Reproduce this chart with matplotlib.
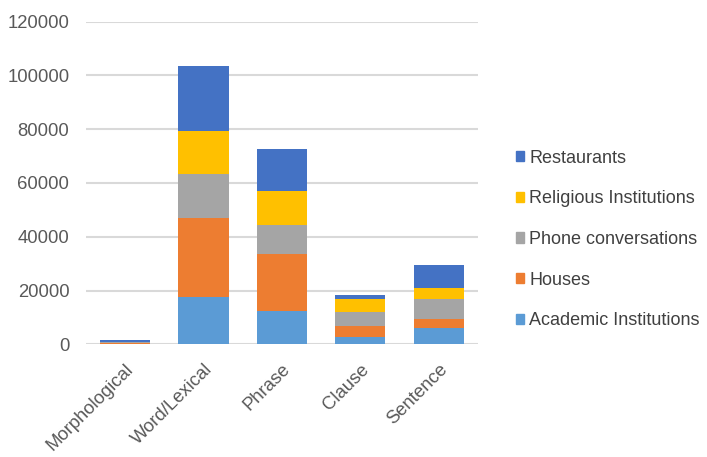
import numpy as np
import matplotlib.pyplot as plt
from matplotlib.patches import Patch

plt.rcParams['font.family'] = ['Liberation Sans', 'DejaVu Sans']

categories = ["Morphological", "Word/Lexical", "Phrase", "Clause", "Sentence"]
seriesNames = ["Academic Institutions", "Houses", "Phone conversations",
               "Religious Institutions", "Restaurants"]
academic = [200, 17600, 12300, 2700, 6100]
houses = [300, 29500, 21300, 4100, 3300]
phone = [200, 16100, 10800, 5300, 7500]
religious = [300, 16200, 12700, 4800, 4000]
restaurants = [600, 24100, 15600, 1400, 8700]
colors = ["#5B9BD5", "#ED7D31", "#A5A5A5", "#FFC000", "#4472C4"]
yTicks = [0, 20000, 40000, 60000, 80000, 100000, 120000]

fig = plt.figure(figsize=(7.07, 4.57), dpi=100)
ax = fig.add_axes([0.1216, 0.2466, 0.5544, 0.706])

x = np.arange(len(categories))
bottom = np.zeros(len(categories))
for values, name, color in zip([academic, houses, phone, religious, restaurants], seriesNames, colors):
    ax.bar(x, values, width=0.64, bottom=bottom, color=color, label=name, zorder=3)
    bottom += np.array(values)

ax.set_xlim(-0.5, 4.5)
ax.set_ylim(0, 120000)
ax.set_yticks(yTicks)
ax.set_yticklabels([str(t) for t in yTicks])
ax.grid(axis="y", color="#d9d9d9", linewidth=1.5, zorder=0)
for side in ["top", "right", "left", "bottom"]:
    ax.spines[side].set_visible(False)
ax.tick_params(axis="both", length=0, labelsize=13.3, labelcolor="#595959")
ax.tick_params(axis="y", pad=12)
ax.tick_params(axis="x", pad=12)
ax.set_xticks(x)
ax.set_xticklabels(categories, rotation=45, ha="right", rotation_mode="anchor")

handles = [Patch(color=c) for c in colors][::-1]
fig.legend(handles, seriesNames[::-1], loc="center left", bbox_to_anchor=(0.707, 0.476),
           frameon=False, fontsize=13.0, handlelength=0.42, handleheight=0.5,
           handletextpad=0.3, labelspacing=1.31, labelcolor="#404040")

plt.savefig("out.png", dpi=100)
